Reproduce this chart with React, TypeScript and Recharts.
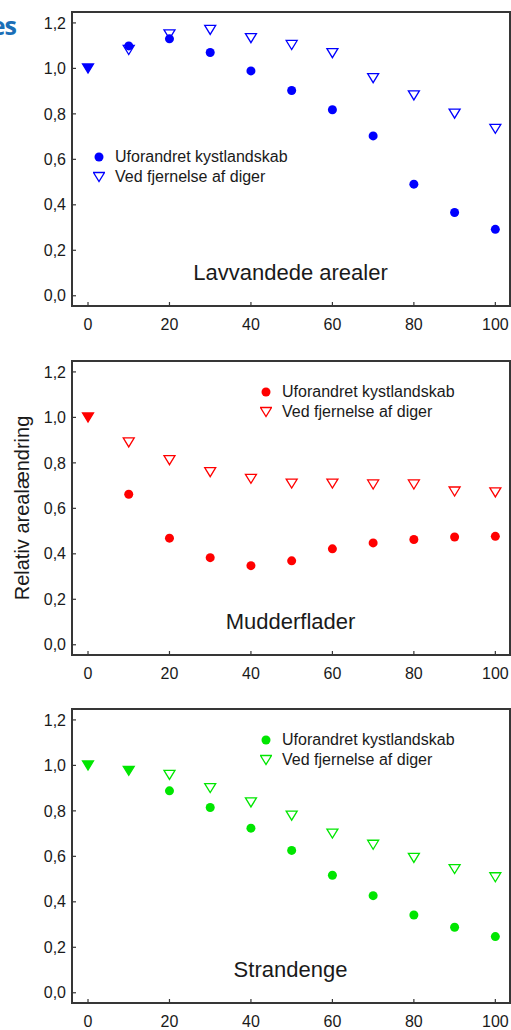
import React from "react";
import { ScatterChart, Scatter, XAxis, YAxis, Legend, ReferenceArea } from "recharts";

// afstand / x-akse
const afstand = [0, 10, 20, 30, 40, 50, 60, 70, 80, 90, 100];
const xTicks = [0, 20, 40, 60, 80, 100];
const yTicks = [0, 0.2, 0.4, 0.6, 0.8, 1.0, 1.2];
const seriesNames = ["Uforandret kystlandskab", "Ved fjernelse af diger"];

const lavvandedeUforandret = [1.0, 1.099, 1.13, 1.07, 0.989, 0.903, 0.818, 0.703, 0.491, 0.366, 0.292];
const lavvandedeDiger = [1.0, 1.081, 1.15, 1.169, 1.133, 1.103, 1.067, 0.957, 0.881, 0.801, 0.734];
const mudderUforandret = [1.0, 0.662, 0.469, 0.383, 0.348, 0.369, 0.422, 0.448, 0.463, 0.474, 0.477];
const mudderDiger = [1.0, 0.89, 0.812, 0.759, 0.73, 0.709, 0.709, 0.705, 0.705, 0.674, 0.67];
const strandUforandret = [1.0, 0.976, 0.888, 0.815, 0.724, 0.626, 0.517, 0.427, 0.342, 0.288, 0.247];
const strandDiger = [1.0, 0.976, 0.958, 0.9, 0.837, 0.779, 0.7, 0.651, 0.593, 0.544, 0.508];

const X_DOMAIN: [number, number] = [-3.93, 103.6];
const Y_DOMAIN: [number, number] = [-0.045, 1.248];

const FONT = "'Liberation Sans', Arial, sans-serif";
const FRAME = "#363636";
const TEXT = "#1a1a1a";

const fmt = (v: number) => v.toFixed(1).replace(".", ",");

// filled circle, hidden where the triangle sits on top of it
const Dot = (props: any) => {
  const { cx, cy, payload, color } = props;
  if (payload.same) return <g />;
  return <circle cx={cx} cy={cy} r={4.5} fill={color} />;
};

// open down-triangle (filled when both series coincide)
const Triangle = (props: any) => {
  const { cx, cy, payload, color } = props;
  return (
    <path
      d={`M${cx - 5.5},${cy - 4.5}L${cx + 5.5},${cy - 4.5}L${cx},${cy + 4.5}Z`}
      fill={payload.same ? color : "none"}
      stroke={color}
      strokeWidth={1.3}
    />
  );
};

const LegendBox = ({ payload, color }: any) => (
  <div style={{ fontFamily: FONT, fontSize: 16, color: TEXT }}>
    {(payload || []).map((entry: any, i: number) => (
      <div key={i} style={{ display: "flex", alignItems: "center", height: 20 }}>
        <svg width={12} height={20}>
          {i === 0 ? (
            <circle cx={6} cy={10} r={4.5} fill={color} />
          ) : (
            <path d="M0.5,5.5L11.5,5.5L6,14.5Z" fill="none" stroke={color} strokeWidth={1.3} />
          )}
        </svg>
        <span style={{ marginLeft: 10, whiteSpace: "nowrap" }}>{entry.value}</span>
      </div>
    ))}
  </div>
);

interface PanelProps {
  top: number;
  title: string;
  color: string;
  uforandret: number[];
  diger: number[];
  legendLeft: number;
  legendTop: number;
  yLabel?: string;
}

function Panel({ top, title, color, uforandret, diger, legendLeft, legendTop, yLabel }: PanelProps) {
  const dotData = afstand.map((x, i) => ({
    x,
    y: uforandret[i],
    same: Math.abs(uforandret[i] - diger[i]) < 0.005,
  }));
  const triData = afstand.map((x, i) => ({
    x,
    y: diger[i],
    same: Math.abs(uforandret[i] - diger[i]) < 0.005,
  }));

  return (
    <div style={{ position: "absolute", left: 0, top, width: 511, height: 336 }}>
      <div
        style={{
          position: "absolute",
          left: 72,
          width: 437,
          top: 262,
          textAlign: "center",
          fontFamily: FONT,
          fontSize: 22,
          lineHeight: "22px",
          color: TEXT,
        }}
      >
        {title}
      </div>
      <ScatterChart width={511} height={336} margin={{ top: 12, right: 1, bottom: 0, left: 0 }}>
        <XAxis
          type="number"
          dataKey="x"
          domain={X_DOMAIN}
          ticks={xTicks}
          allowDataOverflow
          height={30}
          tickSize={-4}
          tickMargin={17}
          axisLine={{ stroke: FRAME, strokeWidth: 2 }}
          tickLine={{ stroke: FRAME, strokeWidth: 1.2 }}
          tick={{ fill: TEXT, fontSize: 16, fontFamily: FONT }}
        />
        <YAxis
          type="number"
          dataKey="y"
          domain={Y_DOMAIN}
          ticks={yTicks}
          allowDataOverflow
          width={72}
          tickSize={-4}
          tickMargin={10}
          tickFormatter={fmt}
          axisLine={{ stroke: FRAME, strokeWidth: 2 }}
          tickLine={{ stroke: FRAME, strokeWidth: 1.2 }}
          tick={{ fill: TEXT, fontSize: 16, fontFamily: FONT }}
          label={
            yLabel
              ? {
                  value: yLabel,
                  angle: -90,
                  position: "center",
                  dx: -13.6,
                  style: { fill: TEXT, fontSize: 20, fontFamily: FONT },
                }
              : undefined
          }
        />
        {/* plot frame */}
        <ReferenceArea
          x1={X_DOMAIN[0]}
          x2={X_DOMAIN[1]}
          y1={Y_DOMAIN[0]}
          y2={Y_DOMAIN[1]}
          fill="none"
          fillOpacity={0}
          stroke={FRAME}
          strokeWidth={2}
          ifOverflow="visible"
        />
        <Legend
          layout="horizontal"
          verticalAlign="middle"
          align="center"
          wrapperStyle={{ left: legendLeft, top: legendTop, width: "auto", height: "auto" }}
          content={(p: any) => <LegendBox payload={p.payload} color={color} />}
        />
        <Scatter
          name={seriesNames[0]}
          data={dotData}
          fill={color}
          isAnimationActive={false}
          shape={(p: any) => <Dot {...p} color={color} />}
        />
        <Scatter
          name={seriesNames[1]}
          data={triData}
          fill={color}
          isAnimationActive={false}
          shape={(p: any) => <Triangle {...p} color={color} />}
        />
      </ScatterChart>
    </div>
  );
}

export default function App() {
  return (
    <div
      style={{
        position: "absolute",
        left: 0,
        top: 0,
        width: 511,
        height: 1030,
        overflow: "hidden",
        background: "#fff",
      }}
    >
      <div
        style={{
          position: "absolute",
          left: -100,
          width: 116,
          top: 13,
          textAlign: "right",
          fontFamily: "'Open Sans', sans-serif",
          fontWeight: 700,
          fontSize: 25,
          lineHeight: "24px",
          letterSpacing: -1,
          color: "#1b6fb7",
        }}
      >
        es
      </div>
      <Panel
        top={0}
        title="Lavvandede arealer"
        color="#0000ff"
        uforandret={lavvandedeUforandret}
        diger={lavvandedeDiger}
        legendLeft={93}
        legendTop={147}
      />
      <Panel
        top={349}
        title="Mudderflader"
        color="#ff0000"
        uforandret={mudderUforandret}
        diger={mudderDiger}
        legendLeft={260}
        legendTop={33}
        yLabel="Relativ arealændring"
      />
      <Panel
        top={697}
        title="Strandenge"
        color="#00e600"
        uforandret={strandUforandret}
        diger={strandDiger}
        legendLeft={260}
        legendTop={33}
      />
    </div>
  );
}
